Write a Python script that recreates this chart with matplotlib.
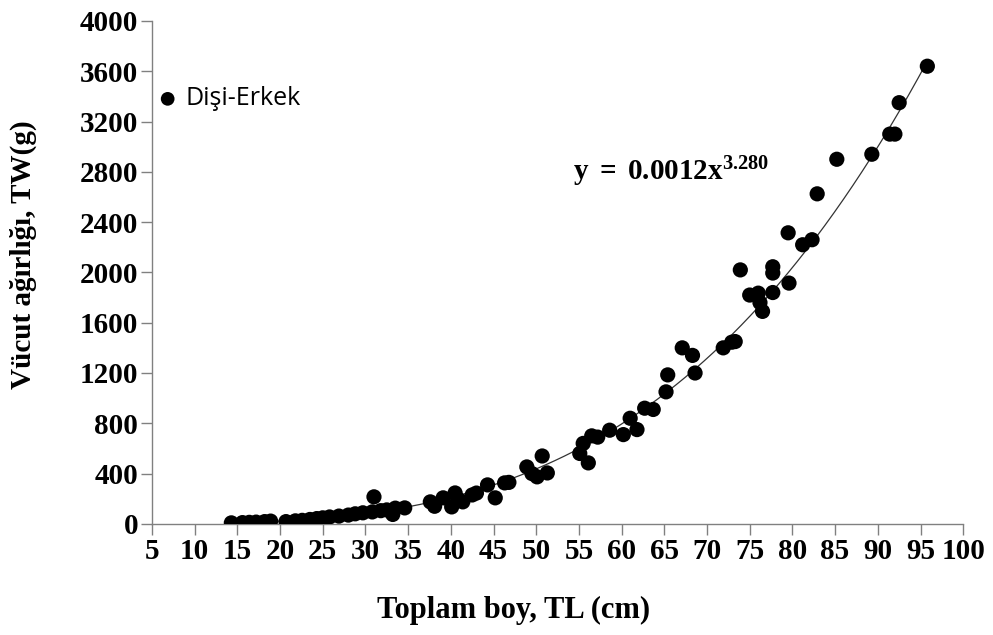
import numpy as np
import matplotlib
matplotlib.use("Agg")
import matplotlib.pyplot as plt

# Total length (cm) and body weight (g)
length_cm = [14.3, 15.6, 16.4, 17.2, 18.2, 18.9, 20.7, 21.8, 22.6, 23.5,
             24.3, 25.0, 25.8, 26.9, 28.0, 28.8, 29.7, 30.8, 31.0, 31.8,
             32.5, 33.2, 33.5, 34.6, 37.6, 38.1, 39.1, 40.1, 40.5, 40.8,
             41.4, 42.5, 43.0, 44.3, 45.2, 46.3, 46.8, 48.9, 49.5, 50.1,
             50.7, 51.3, 55.1, 55.5, 56.1, 56.5, 57.2, 58.6, 60.2, 61.0,
             61.8, 62.7, 63.7, 65.2, 65.4, 67.1, 68.3, 68.6, 71.9, 72.9,
             73.3, 73.9, 75.0, 76.0, 76.2, 76.5, 77.7, 77.7, 77.7, 79.5,
             79.6, 81.2, 82.3, 82.9, 85.2, 89.3, 91.4, 92.0, 92.5, 95.8]
weight_g = [8, 10, 12, 14, 18, 22, 18, 24, 28, 35,
            42, 48, 55, 62, 70, 80, 88, 95, 215, 105,
            111, 75, 125, 127, 175, 140, 207, 135, 246, 200,
            175, 230, 245, 310, 207, 326, 330, 453, 400, 374,
            540, 405, 560, 640, 485, 700, 690, 745, 710, 840,
            750, 920, 910, 1050, 1185, 1400, 1340, 1200, 1400, 1445,
            1450, 2020, 1820, 1835, 1760, 1690, 1840, 2045, 1995, 2315,
            1915, 2220, 2260, 2625, 2900, 2940, 3100, 3100, 3350, 3640]

x_ticks = list(range(5, 101, 5))
y_ticks = list(range(0, 4001, 400))
series_label = "Dişi-Erkek"
equation = r"$\mathbf{y\;=\;0.0012x^{3.280}}$"

plt.rcParams["mathtext.fontset"] = "custom"
plt.rcParams["mathtext.rm"] = "Liberation Serif:bold"
plt.rcParams["mathtext.bf"] = "Liberation Serif:bold"
plt.rcParams["mathtext.it"] = "Liberation Serif:bold"

fig = plt.figure(figsize=(9.93, 6.35), dpi=100)
ax = fig.add_axes([0.153, 0.175, 0.817, 0.792])

x = np.array(length_cm)
y = np.array(weight_g)

# Power trendline fitted like a spreadsheet power trendline
b, loga = np.polyfit(np.log(x), np.log(y), 1)
xf = np.linspace(x.min(), x.max(), 300)
ax.plot(xf, np.exp(loga) * xf ** b, color="#333333", lw=0.9, zorder=2)

ax.scatter(x, y, s=120, color="black", edgecolors="none", zorder=3,
           label=series_label)

ax.set_xlim(5, 100)
ax.set_ylim(0, 4000)
ax.set_xticks(x_ticks)
ax.set_yticks(y_ticks)

for s in ["top", "right"]:
    ax.spines[s].set_visible(False)
for s in ["left", "bottom"]:
    ax.spines[s].set_color("#808080")
    ax.spines[s].set_linewidth(1.0)
ax.tick_params(axis="both", direction="out", length=8, width=1.0,
               color="#808080", pad=2)

for lab in ax.get_xticklabels() + ax.get_yticklabels():
    lab.set_fontfamily("Liberation Serif")
    lab.set_fontweight("bold")
    lab.set_fontsize(21)

ax.set_xlabel("Toplam boy, TL (cm)", fontfamily="Liberation Serif",
              fontweight="bold", fontsize=22)
ax.set_ylabel("Vücut ağırlığı, TW(g)", fontfamily="Liberation Serif",
              fontweight="bold", fontsize=21)
ax.xaxis.set_label_coords(0.446, -0.143)
ax.yaxis.set_label_coords(-0.142, 0.535)

ax.text(54.3, 2735, equation, fontsize=21, color="black",
        va="baseline", ha="left")

leg = ax.legend(loc="center left", bbox_to_anchor=(0.004, 0.845), frameon=False,
                prop={"family": "Open Sans", "size": 18}, handletextpad=0.2,
                handlelength=1.0, markerscale=0.9, borderaxespad=0.0,
                borderpad=0.0)

fig.savefig("out.png", dpi=100, facecolor="white")
